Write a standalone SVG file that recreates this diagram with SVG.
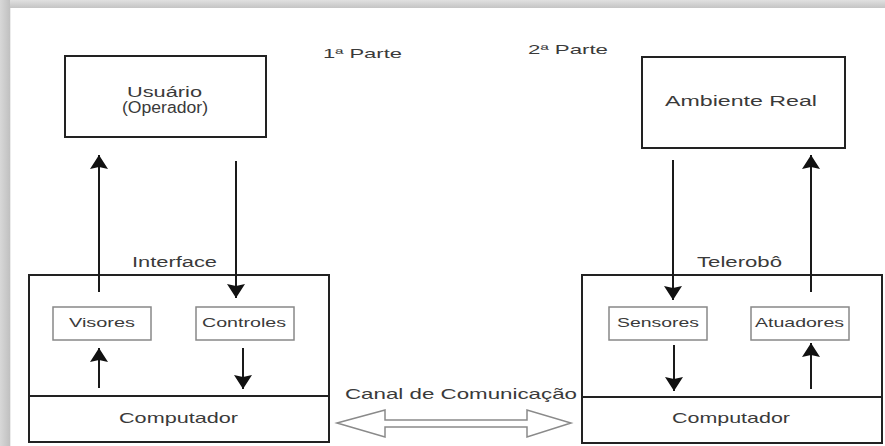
<svg xmlns="http://www.w3.org/2000/svg" width="885" height="446" viewBox="0 0 885 446">
  <defs>
    <linearGradient id="shadeTop" x1="0" y1="0" x2="0" y2="1">
      <stop offset="0" stop-color="#e0e0e0"/>
      <stop offset="1" stop-color="#c4c4c4"/>
    </linearGradient>
    <linearGradient id="shadeLeft" x1="0" y1="0" x2="1" y2="0">
      <stop offset="0" stop-color="#d8d8d8"/>
      <stop offset="1" stop-color="#c0c0c0"/>
    </linearGradient>
    <!-- filled arrowhead: 14 long, 18 wide -->
    <marker id="head" viewBox="0 0 14 18" refX="14" refY="9" markerWidth="14" markerHeight="18" markerUnits="userSpaceOnUse" orient="auto">
      <path d="M0,0 L14,9 L0,18 L2,9 Z" fill="#111"/>
    </marker>
    <style>
      .box { fill: #fff; stroke: #222; stroke-width: 2; }
      .inner { fill: #fff; stroke: #888; stroke-width: 1.5; }
      .lbl { font-family: "Liberation Sans", Arial, sans-serif; fill: #3a3a3a; }
      .conn line { stroke: #1a1a1a; stroke-width: 2; marker-end: url(#head); }
      .pipe { fill: #fff; stroke: #8a8a8a; stroke-width: 1.5; }
    </style>
  </defs>

  <!-- page background with soft shaded border -->
  <rect x="0" y="0" width="885" height="446" fill="#fff"/>
  <rect x="0" y="0" width="885" height="8" fill="url(#shadeTop)"/>
  <rect x="0" y="0" width="10" height="446" fill="url(#shadeLeft)"/>
  <rect x="10" y="8" width="1" height="438" fill="#ececec"/>

  <!-- section titles -->
  <text class="lbl" x="323" y="58" font-size="13.5" textLength="79" lengthAdjust="spacingAndGlyphs">1ª Parte</text>
  <text class="lbl" x="528" y="54" font-size="13.5" textLength="80" lengthAdjust="spacingAndGlyphs">2ª Parte</text>

  <g id="usuario">
    <rect class="box" x="65" y="56" width="201" height="81"/>
    <text class="lbl" x="127" y="97" font-size="14" textLength="75" lengthAdjust="spacingAndGlyphs">Usuário</text>
    <text class="lbl" x="122" y="113" font-size="16" textLength="86" lengthAdjust="spacingAndGlyphs">(Operador)</text>
  </g>

  <g id="ambiente">
    <rect class="box" x="642" y="57" width="203" height="91"/>
    <text class="lbl" x="665" y="106" font-size="14" textLength="152" lengthAdjust="spacingAndGlyphs">Ambiente Real</text>
  </g>

  <g id="interface">
    <rect class="box" x="29" y="275" width="300" height="121"/>
    <text class="lbl" x="132" y="267" font-size="14" textLength="85" lengthAdjust="spacingAndGlyphs">Interface</text>
  </g>

  <g id="visores">
    <rect class="inner" x="53" y="307" width="98" height="33"/>
    <text class="lbl" x="69" y="327" font-size="13" textLength="66" lengthAdjust="spacingAndGlyphs">Visores</text>
  </g>

  <g id="controles">
    <rect class="inner" x="196" y="307" width="98" height="33"/>
    <text class="lbl" x="202" y="327" font-size="13" textLength="84" lengthAdjust="spacingAndGlyphs">Controles</text>
  </g>

  <g id="computador-1">
    <rect class="box" x="29" y="396" width="300" height="46"/>
    <text class="lbl" x="119" y="423" font-size="15" textLength="119" lengthAdjust="spacingAndGlyphs">Computador</text>
  </g>

  <g id="telerobo">
    <rect class="box" x="582" y="275" width="300" height="122"/>
    <text class="lbl" x="697" y="267" font-size="14" textLength="85" lengthAdjust="spacingAndGlyphs">Telerobô</text>
  </g>

  <g id="sensores">
    <rect class="inner" x="609" y="307" width="98" height="33"/>
    <text class="lbl" x="617" y="327" font-size="13" textLength="82" lengthAdjust="spacingAndGlyphs">Sensores</text>
  </g>

  <g id="atuadores">
    <rect class="inner" x="751" y="307" width="98" height="33"/>
    <text class="lbl" x="755" y="327" font-size="13" textLength="89" lengthAdjust="spacingAndGlyphs">Atuadores</text>
  </g>

  <g id="computador-2">
    <rect class="box" x="582" y="397" width="300" height="46"/>
    <text class="lbl" x="672" y="423" font-size="15" textLength="118" lengthAdjust="spacingAndGlyphs">Computador</text>
  </g>

  <g id="canal">
    <text class="lbl" x="345" y="399" font-size="15" textLength="232" lengthAdjust="spacingAndGlyphs">Canal de Comunicação</text>
    <path class="pipe" d="M337,423 L385,410 L385,420 L527,420 L527,410 L571,423 L527,437 L527,427 L385,427 L385,437 Z"/>
  </g>

  <g id="connectors" class="conn">
    <line x1="99" y1="292" x2="99" y2="155"/>
    <line x1="236" y1="161" x2="236" y2="298"/>
    <line x1="99" y1="388" x2="99" y2="348"/>
    <line x1="243" y1="348" x2="243" y2="389"/>
    <line x1="673" y1="160" x2="673" y2="300"/>
    <line x1="811" y1="292" x2="811" y2="155"/>
    <line x1="674" y1="345" x2="674" y2="391"/>
    <line x1="811" y1="389" x2="811" y2="343"/>
  </g>
</svg>
